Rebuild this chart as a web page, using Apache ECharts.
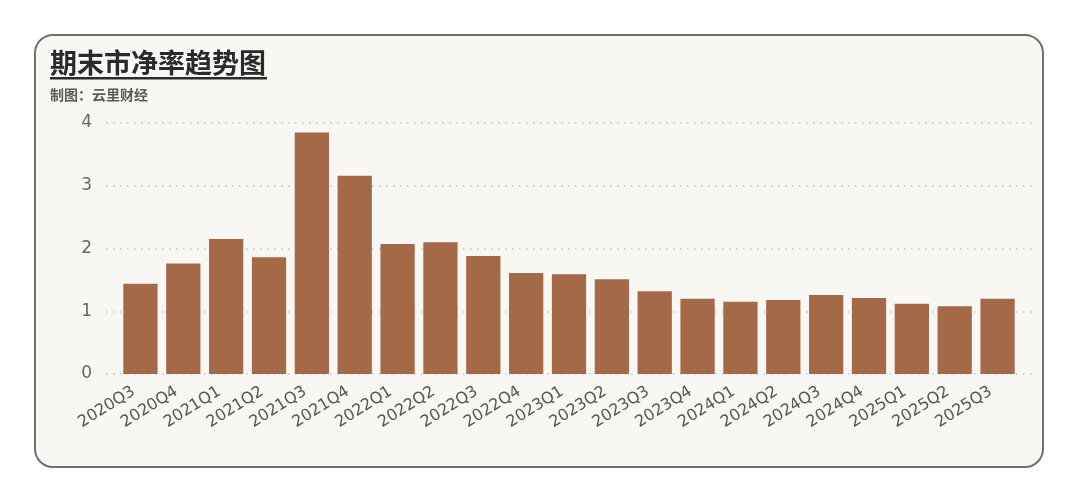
<!DOCTYPE html>
<html>
<head>
<meta charset="utf-8">
<script src="https://cdn.jsdelivr.net/npm/echarts@6/dist/echarts.min.js"></script>
<style>
html,body{margin:0;padding:0;background:#ffffff;}
#chart{width:1080px;height:503px;}
</style>
</head>
<body>
<div id="chart"></div>
<script>
const categories = ['2020Q3','2020Q4','2021Q1','2021Q2','2021Q3','2021Q4','2022Q1','2022Q2','2022Q3','2022Q4','2023Q1','2023Q2','2023Q3','2023Q4','2024Q1','2024Q2','2024Q3','2024Q4','2025Q1','2025Q2','2025Q3'];
const pbValues = [1.44,1.76,2.15,1.86,3.85,3.16,2.07,2.10,1.88,1.61,1.59,1.51,1.32,1.20,1.15,1.18,1.26,1.21,1.12,1.08,1.20];
const yTicks = [0,1,2,3,4];
const titleText = '期末市净率趋势图';
const subtitleText = '制图：云里财经';

const chart = echarts.init(document.getElementById('chart'));
const font = 'DejaVu Sans';
chart.setOption({
  backgroundColor: '#ffffff',
  animation: false,
  graphic: [
    {type:'rect', z:-10, silent:true, shape:{x:35,y:35,width:1008,height:432,r:18},
     style:{fill:'#f8f7f3', stroke:'#707070', lineWidth:2}},
    {type:'text', z:10, left:50, top:49, style:{text:titleText, font:'bold 27px "Noto Sans CJK SC"', fill:'#2a2a2a'}},
    {type:'rect', z:10, shape:{x:50,y:77,width:217,height:2.5}, style:{fill:'#2a2a2a'}},
    {type:'text', z:10, left:50, top:88, style:{text:subtitleText, font:'bold 14px "Noto Sans CJK SC"', fill:'#5a5a5a'}}
  ],
  grid: [
    {left:106, right:48, top:123, bottom:129},
    {left:119, right:61, top:123, bottom:129}
  ],
  xAxis: [
    {type:'category', gridIndex:0, data:categories, show:false},
    {type:'category', gridIndex:1, data:categories,
     axisLine:{show:false}, axisTick:{show:false},
     axisLabel:{rotate:32, margin:12, padding:[0,8,0,0], interval:0, color:'#555555', fontFamily:font, fontSize:16}}
  ],
  yAxis: [
    {type:'value', gridIndex:0, min:0, max:4, interval:1,
     axisLine:{show:false}, axisTick:{show:false},
     axisLabel:{margin:14, color:'#666666', fontFamily:font, fontSize:17,
       formatter: v => yTicks.includes(v) ? String(v) : ''},
     splitLine:{show:true, lineStyle:{color:'#c4c4c4', width:1.5, type:[1.5,5.5]}}},
    {type:'value', gridIndex:1, min:0, max:4, interval:1, show:false, splitLine:{show:false}}
  ],
  series: [{
    type:'bar', xAxisIndex:1, yAxisIndex:1, data:pbValues,
    barCategoryGap:'20%',
    itemStyle:{color:'#a46a48'}
  }]
});
</script>
</body>
</html>
